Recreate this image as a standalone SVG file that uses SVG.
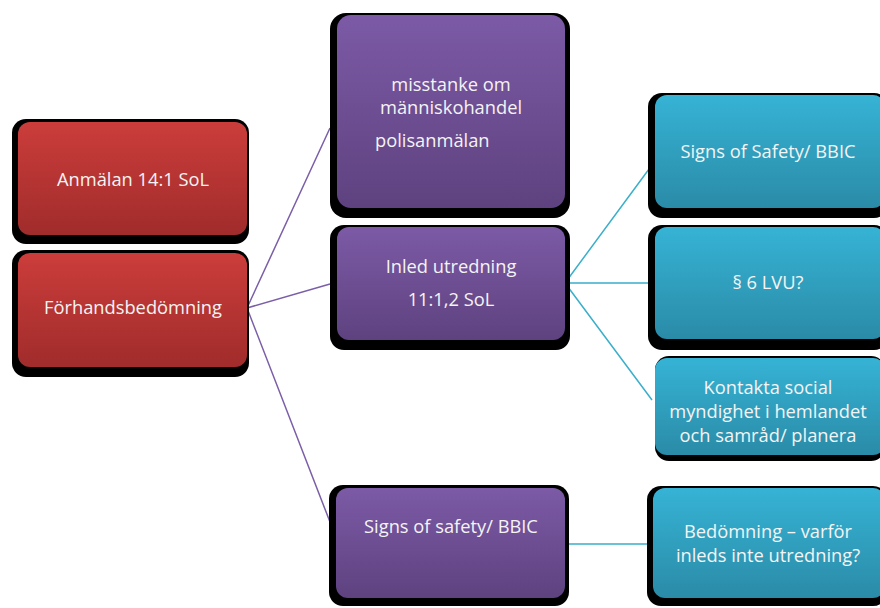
<svg xmlns="http://www.w3.org/2000/svg" width="880" height="608" viewBox="0 0 880 608">
<defs>
<linearGradient id="gr" x1="0" y1="0" x2="0" y2="1"><stop offset="0" stop-color="#CB3D3B"/><stop offset="1" stop-color="#A02C2B"/></linearGradient>
<linearGradient id="gp" x1="0" y1="0" x2="0" y2="1"><stop offset="0" stop-color="#7C5AA6"/><stop offset="1" stop-color="#5E427F"/></linearGradient>
<linearGradient id="gb" x1="0" y1="0" x2="0" y2="1"><stop offset="0" stop-color="#36B3D5"/><stop offset="1" stop-color="#2A8BA7"/></linearGradient>
<style>
.sh{fill:#000}
.t{font-family:"Open Sans","Liberation Sans",sans-serif;font-size:18.3px;fill:#F4F4F4;text-anchor:middle}
.lp{stroke:#7A5FA8;stroke-width:1.5;fill:none}
.lb{stroke:#3AAFCB;stroke-width:1.5;fill:none}
</style>
</defs>
<rect width="880" height="608" fill="#fff"/>
<g id="connectors">
<path class="lp" d="M247 308 L330 128 M247 308 L330 284 M247 308 L330 522"/>
<path class="lb" d="M565 283 L652 165 M565 283 L652 283 M565 283 L652 400 M566 544 L652 544"/>
</g>
<g id="n1">
<rect class="sh" x="12" y="119" width="237" height="125" rx="14"/>
<rect x="18" y="122" width="229" height="113" rx="12" fill="url(#gr)"/>
<text class="t" x="133" y="186">Anmälan 14:1 SoL</text>
</g>
<g id="n2">
<rect class="sh" x="12" y="250" width="237" height="127" rx="14"/>
<rect x="18" y="253" width="229" height="114" rx="12" fill="url(#gr)"/>
<text class="t" x="133" y="314">Förhandsbedömning</text>
</g>
<g id="n3">
<rect class="sh" x="330" y="13" width="240" height="205" rx="16"/>
<rect x="337" y="15" width="228" height="193" rx="14" fill="url(#gp)"/>
<text class="t" x="451" y="91">misstanke om</text>
<text class="t" x="451" y="114">människohandel</text>
<text class="t" x="375" y="147" style="text-anchor:start">polisanmälan</text>
</g>
<g id="n4">
<rect class="sh" x="330" y="225" width="240" height="125" rx="14"/>
<rect x="337" y="227" width="228" height="113" rx="12" fill="url(#gp)"/>
<text class="t" x="451" y="273">Inled utredning</text>
<text class="t" x="451" y="306">11:1,2 SoL</text>
</g>
<g id="n5">
<rect class="sh" x="329" y="485" width="240" height="121" rx="14"/>
<rect x="336" y="488" width="229" height="110" rx="12" fill="url(#gp)"/>
<text class="t" x="451" y="533">Signs of safety/ BBIC</text>
</g>
<g id="n6">
<rect class="sh" x="648" y="93" width="240" height="125" rx="14"/>
<rect x="655" y="95" width="230" height="113" rx="12" fill="url(#gb)"/>
<text class="t" x="768" y="158">Signs of Safety/ BBIC</text>
</g>
<g id="n7">
<rect class="sh" x="648" y="225" width="240" height="125" rx="14"/>
<rect x="655" y="227" width="230" height="112" rx="12" fill="url(#gb)"/>
<text class="t" x="768" y="289">§ 6 LVU?</text>
</g>
<g id="n8">
<rect class="sh" x="655" y="356" width="230" height="105" rx="14"/>
<rect x="655" y="358" width="230" height="97" rx="12" fill="url(#gb)"/>
<text class="t" x="768" y="394">Kontakta social</text>
<text class="t" x="768" y="418">myndighet i hemlandet</text>
<text class="t" x="768" y="442">och samråd/ planera</text>
</g>
<g id="n9">
<rect class="sh" x="647" y="486" width="240" height="120" rx="14"/>
<rect x="653" y="488" width="232" height="110" rx="12" fill="url(#gb)"/>
<text class="t" x="768" y="538">Bedömning – varför</text>
<text class="t" x="768" y="562">inleds inte utredning?</text>
</g>
</svg>
